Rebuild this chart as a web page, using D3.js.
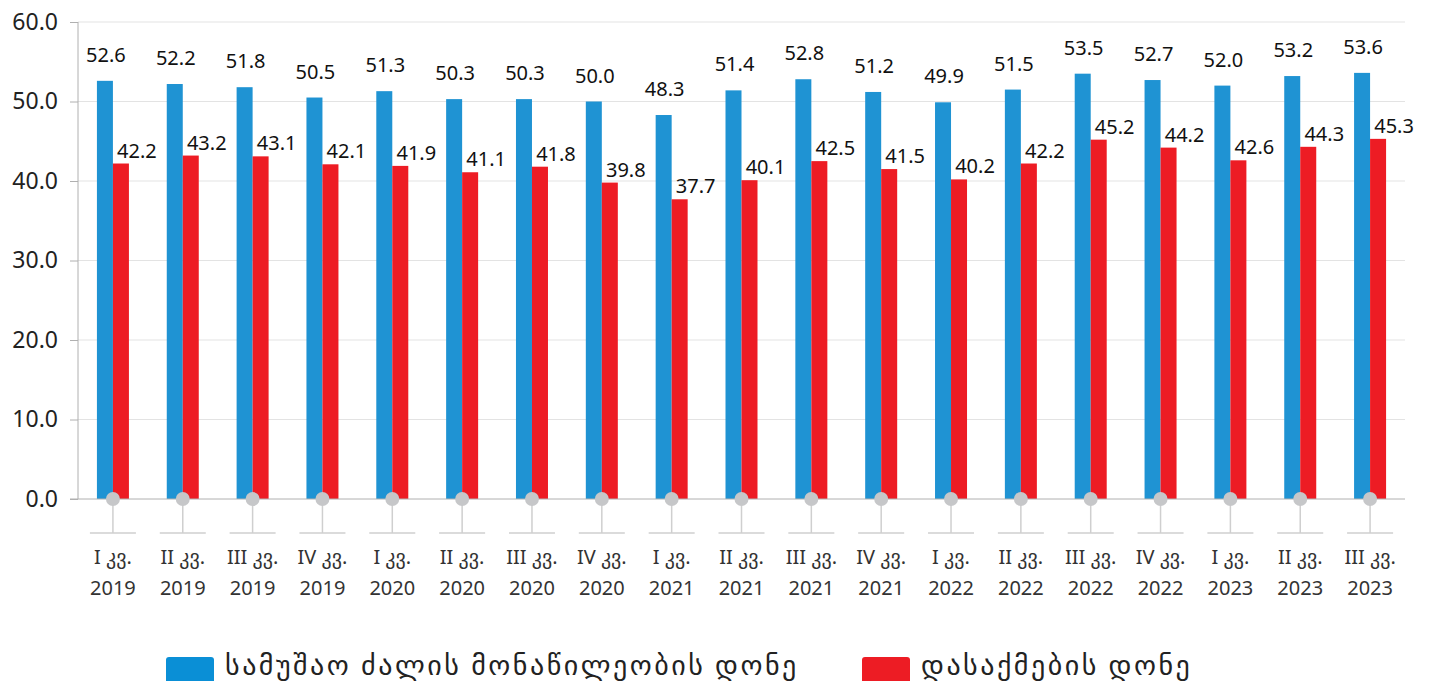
<!DOCTYPE html>
<html lang="ka">
<head>
<meta charset="utf-8">
<title>Chart</title>
<script src="https://cdn.jsdelivr.net/npm/d3@7/dist/d3.min.js"></script>
<style>
  body { margin: 0; background: #fff; }
  svg text { font-family: "Noto Sans", "DejaVu Sans", sans-serif; }
</style>
</head>
<body>
<script>
var quarters = ["I კვ.", "II კვ.", "III კვ.", "IV კვ.", "I კვ.", "II კვ.", "III კვ.", "IV კვ.", "I კვ.", "II კვ.", "III კვ.", "IV კვ.", "I კვ.", "II კვ.", "III კვ.", "IV კვ.", "I კვ.", "II კვ.", "III კვ."];
var years = ["2019", "2019", "2019", "2019", "2020", "2020", "2020", "2020", "2021", "2021", "2021", "2021", "2022", "2022", "2022", "2022", "2023", "2023", "2023"];
var participation = [52.6, 52.2, 51.8, 50.5, 51.3, 50.3, 50.3, 50.0, 48.3, 51.4, 52.8, 51.2, 49.9, 51.5, 53.5, 52.7, 52.0, 53.2, 53.6];
var employment = [42.2, 43.2, 43.1, 42.1, 41.9, 41.1, 41.8, 39.8, 37.7, 40.1, 42.5, 41.5, 40.2, 42.2, 45.2, 44.2, 42.6, 44.3, 45.3];
var yTicks = [0, 10, 20, 30, 40, 50, 60];
var seriesNames = ["სამუშაო ძალის მონაწილეობის დონე", "დასაქმების დონე"];

var W = 1429, H = 681;
var mLeft = 78, mRight = 1405, mTop = 22, mBottom = 499;
var blue = "#1f93d3", red = "#ed1c24";

var svg = d3.select("body").append("svg").attr("width", W).attr("height", H);

var x = d3.scaleBand().domain(d3.range(quarters.length)).range([mLeft, mRight]);
var y = d3.scaleLinear().domain([0, 60]).range([mBottom, mTop]);
var barW = 16;

// grid
svg.append("g").selectAll("line").data(yTicks.slice(1)).enter().append("line")
  .attr("x1", mLeft).attr("x2", mRight)
  .attr("y1", function (d) { return y(d); }).attr("y2", function (d) { return y(d); })
  .attr("stroke", "#e3e3e3").attr("stroke-width", 1);

// y axis
var yAxis = svg.append("g").attr("transform", "translate(" + mLeft + ",0)")
  .call(d3.axisLeft(y).tickValues(yTicks).tickFormat(d3.format(".1f")).tickSize(8).tickPadding(12));
yAxis.select(".domain").attr("stroke", "#b0b0b0").attr("d", "M0," + mTop + "V" + mBottom);
yAxis.selectAll(".tick line").attr("stroke", "#b0b0b0");
yAxis.selectAll("text").attr("font-size", 23).attr("fill", "#222");

// bars
var g = svg.append("g");
g.selectAll("rect.p").data(participation).enter().append("rect")
  .attr("x", function (d, i) { return x(i) + x.bandwidth() / 2 - barW; })
  .attr("y", function (d) { return y(d); })
  .attr("width", barW).attr("height", function (d) { return mBottom - y(d); })
  .attr("fill", blue);
g.selectAll("rect.e").data(employment).enter().append("rect")
  .attr("x", function (d, i) { return x(i) + x.bandwidth() / 2; })
  .attr("y", function (d) { return y(d); })
  .attr("width", barW).attr("height", function (d) { return mBottom - y(d); })
  .attr("fill", red);

// value labels
g.selectAll("text.p").data(participation).enter().append("text")
  .attr("x", function (d, i) { return x(i) + x.bandwidth() / 2 - barW / 2 + 1; })
  .attr("y", function (d) { return y(d) - 19; })
  .attr("text-anchor", "middle").attr("font-size", 20).attr("fill", "#111")
  .text(function (d) { return d.toFixed(1); });
g.selectAll("text.e").data(employment).enter().append("text")
  .attr("x", function (d, i) { return x(i) + x.bandwidth() / 2 + 24; })
  .attr("y", function (d) { return y(d) - 6; })
  .attr("text-anchor", "middle").attr("font-size", 20).attr("fill", "#111")
  .text(function (d) { return d.toFixed(1); });

// x axis line
svg.append("line").attr("x1", mLeft - 8).attr("x2", mRight).attr("y1", mBottom).attr("y2", mBottom)
  .attr("stroke", "#b0b0b0");

// category markers
var cat = svg.append("g").selectAll("g").data(quarters).enter().append("g")
  .attr("transform", function (d, i) { return "translate(" + (x(i) + x.bandwidth() / 2) + ",0)"; });
cat.append("line").attr("x1", 0).attr("x2", 0).attr("y1", mBottom).attr("y2", 533)
  .attr("stroke", "#cfcfcf").attr("stroke-width", 1.5);
cat.append("line").attr("x1", -23).attr("x2", 23).attr("y1", 533).attr("y2", 533)
  .attr("stroke", "#cfcfcf").attr("stroke-width", 1.5);
cat.append("circle").attr("cx", 0).attr("cy", mBottom).attr("r", 7).attr("fill", "#c6c7c9");
cat.append("text").attr("y", 564).attr("text-anchor", "middle").attr("font-size", 20).attr("fill", "#333")
  .text(function (d) { return d; });
cat.append("text").attr("y", 595).attr("text-anchor", "middle").attr("font-size", 20).attr("fill", "#333")
  .text(function (d, i) { return years[i]; });

// legend
var legend = svg.append("g");
var legX = [166, 862], legColors = ["#0a8fd6", "#ed1c24"];
seriesNames.forEach(function (n, i) {
  legend.append("rect").attr("x", legX[i]).attr("y", 657).attr("width", 48).attr("height", 30)
    .attr("rx", 3).attr("fill", legColors[i]);
  legend.append("text").attr("x", legX[i] + 59).attr("y", 675).attr("font-size", 28).attr("fill", "#222")
    .attr("letter-spacing", 2.5).text(n);
});
</script>
</body>
</html>
